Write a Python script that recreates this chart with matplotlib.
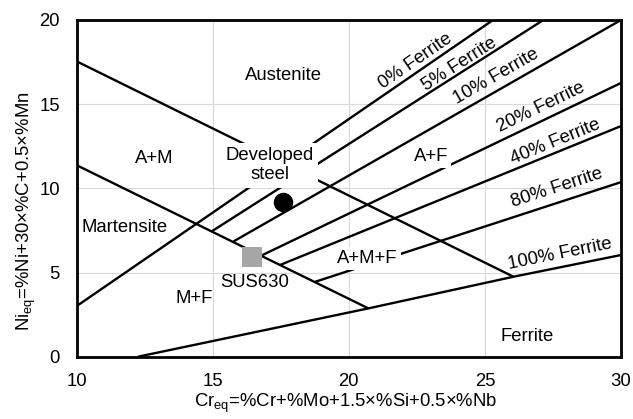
import numpy as np
import matplotlib
matplotlib.use("Agg")
import matplotlib.pyplot as plt

plt.rcParams['font.family'] = ['Liberation Sans', 'DejaVu Sans']
plt.rcParams['mathtext.fontset'] = 'custom'
plt.rcParams['mathtext.rm'] = 'Liberation Sans'

# ---- data (Cr_eq, Ni_eq) ----
upper_am_cr = [10, 26.05]
upper_am_ni = [17.55, 4.75]
lower_am_cr = [10, 20.72]
lower_am_ni = [11.38, 2.87]

ferrite_labels = ["0% Ferrite", "5% Ferrite", "10% Ferrite", "20% Ferrite",
                  "40% Ferrite", "80% Ferrite", "100% Ferrite"]
ferrite_cr = [[10, 25.3], [14.97, 27.15], [15.77, 30], [16.78, 30],
              [17.48, 30], [18.77, 30], [12.26, 20.72, 26.05, 30]]
ferrite_ni = [[3.0, 20], [7.45, 20], [6.85, 20], [6.0, 16.26],
              [5.45, 13.7], [4.45, 10.37], [0, 2.87, 4.75, 6.04]]

developed_cr = [17.6]
developed_ni = [9.2]
sus630_cr = [16.46]
sus630_ni = [5.94]

xticks = [10, 15, 20, 25, 30]
yticks = [0, 5, 10, 15, 20]

# ---- layout ----
FS = 13.3
fig = plt.figure(figsize=(6.33, 4.19), dpi=100)
ax = fig.add_axes([76.5 / 633, 1 - 356.7 / 419, (621 - 76.5) / 633, (356.7 - 20) / 419])
ax.set_xlim(10, 30)
ax.set_ylim(0, 20)
ax.set_xticks(xticks)
ax.set_yticks(yticks)
ax.grid(True, color='#d9d9d9', linewidth=0.8, zorder=0)
ax.set_axisbelow(True)
ax.tick_params(length=0, labelsize=FS, pad=12)
ax.tick_params(axis='y', pad=12)
for s in ax.spines.values():
    s.set_linewidth(2.0)
    s.set_color('black')
    s.set_zorder(5)

LW = 1.7
ax.plot(upper_am_cr, upper_am_ni, color='black', lw=LW, zorder=2, solid_capstyle='butt')
ax.plot(lower_am_cr, lower_am_ni, color='black', lw=LW, zorder=2, solid_capstyle='butt')
for cr, ni in zip(ferrite_cr, ferrite_ni):
    ax.plot(cr, ni, color='black', lw=LW, zorder=2, solid_capstyle='butt')

# ferrite labels
ferrite_label_pos = [(22.46, 17.58), (24.05, 17.39), (25.43, 16.63), (27.05, 14.81),
                     (27.58, 12.77), (27.64, 10.0), (27.76, 6.08)]


def screen_angle(cr, ni):
    p1 = ax.transData.transform((cr[-2], ni[-2]))
    p2 = ax.transData.transform((cr[-1], ni[-1]))
    return np.degrees(np.arctan2(p2[1] - p1[1], p2[0] - p1[0]))


for lab, (x, y), cr, ni in zip(ferrite_labels, ferrite_label_pos, ferrite_cr, ferrite_ni):
    ax.text(x, y, lab, fontsize=FS, rotation=screen_angle(cr, ni),
            rotation_mode='anchor', ha='center', va='center', zorder=3)

# region labels
box = dict(facecolor='white', edgecolor='none', pad=2)
ax.text(17.61, 16.73, "Austenite", fontsize=FS, ha='center', va='center', zorder=3)
ax.text(12.85, 11.8, "A+M", fontsize=FS, ha='center', va='center', zorder=3)
ax.text(17.11, 11.38, "Developed\nsteel", fontsize=FS, ha='center', va='center',
        linespacing=1.2, bbox=dict(facecolor='white', edgecolor='none', pad=3), zorder=3)
ax.text(11.75, 7.68, "Martensite", fontsize=FS, ha='center', va='center', zorder=3)
ax.text(14.32, 3.45, "M+F", fontsize=FS, ha='center', va='center', zorder=3)
ax.text(16.56, 4.42, "SUS630", fontsize=FS, ha='center', va='center', zorder=3)
ax.text(23.04, 11.88, "A+F", fontsize=FS, ha='center', va='center', bbox=box, zorder=3)
ax.text(20.69, 5.83, "A+M+F", fontsize=FS, ha='center', va='center', bbox=box, zorder=3)
ax.text(26.56, 1.19, "Ferrite", fontsize=FS, ha='center', va='center', zorder=3)

# points
ax.plot(developed_cr, developed_ni, 'o', color='black', markersize=13, zorder=4)
ax.plot(sus630_cr, sus630_ni, 's', color='#a6a6a6', markersize=14.5, markeredgewidth=0, zorder=4)

ax.set_xlabel(r"Cr$_\mathregular{eq}$=%Cr+%Mo+1.5×%Si+0.5×%Nb", fontsize=FS)
ax.set_ylabel(r"Ni$_\mathregular{eq}$=%Ni+30×%C+0.5×%Mn", fontsize=FS)
ax.xaxis.set_label_coords((346 - 76.5) / 544.5, -(392 - 356.7) / 336.7)
ax.yaxis.set_label_coords((38 - 76.5) / 544.5, (356.7 - 211) / 336.7)

fig.savefig("out.png", dpi=100)
